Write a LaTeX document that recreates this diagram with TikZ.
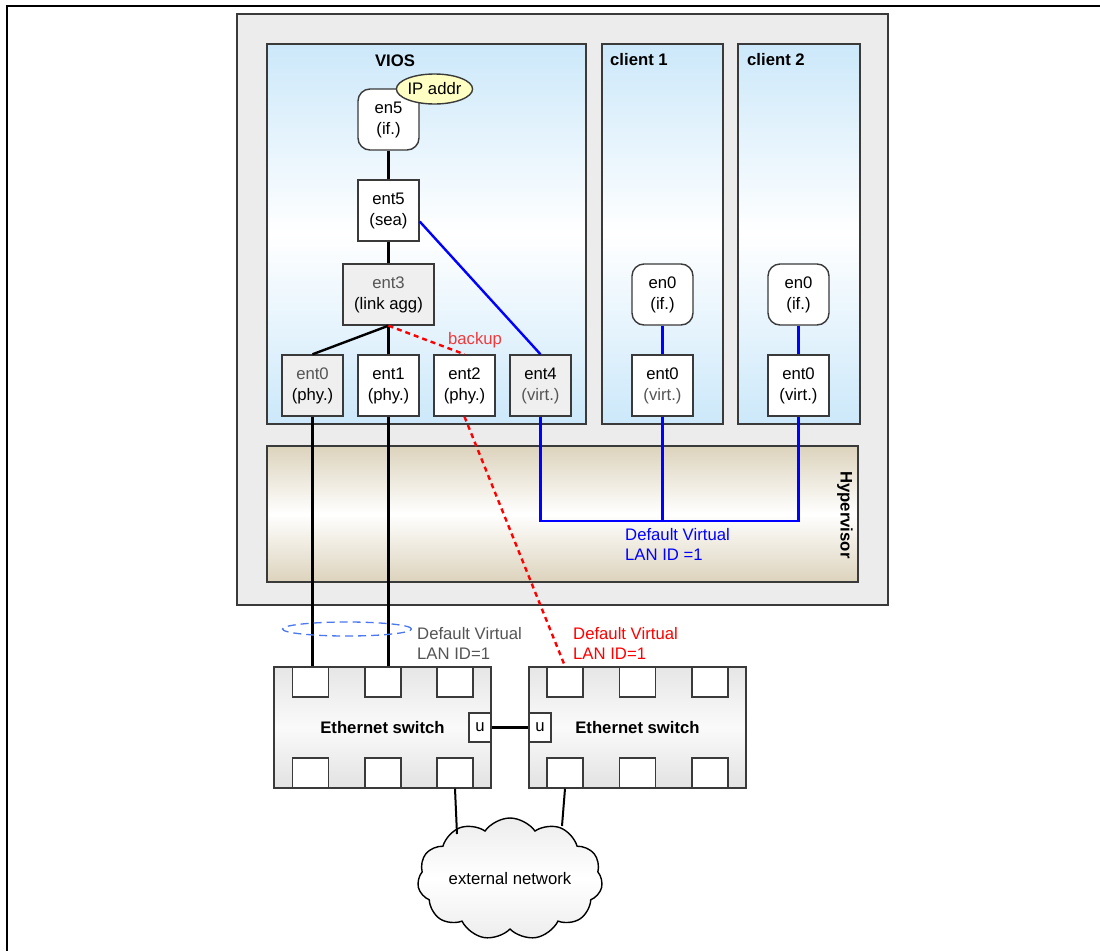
\documentclass[tikz,border=0pt]{standalone}
\usepackage{fontspec}
\setmainfont{Liberation Sans}
\usetikzlibrary{shapes.geometric,shapes.symbols}
\definecolor{sysfill}{HTML}{ECECEC}
\definecolor{border}{HTML}{3A3A3A}
\definecolor{lblue}{HTML}{CCE8FA}
\definecolor{beige}{HTML}{DCD3BC}
\definecolor{ipyel}{HTML}{FFFFC4}
\definecolor{txtgray}{HTML}{555555}
\definecolor{ellblue}{HTML}{4A78F0}
\definecolor{bkred}{HTML}{F03A3A}
\definecolor{lgray}{HTML}{EFEFEF}
\definecolor{swtop}{HTML}{E6E6E6}
\definecolor{swmid}{HTML}{FAFAFA}
\definecolor{swbot}{HTML}{E2E2E2}
\definecolor{cloudg}{HTML}{EDEDED}
\newcommand\fs{\fontsize{16.7}{21}\selectfont}
\newcommand\fl{\fontsize{16.7}{20}\selectfont}
\tikzset{
  devbox/.style={draw=border, line width=1.4pt, fill=white, minimum width=61pt, minimum height=61pt, inner sep=0pt, align=center, font=\fs},
  ifbox/.style={devbox, rounded corners=12pt},
  port/.style={draw=border, line width=1.4pt, fill=white, minimum width=36pt, minimum height=30pt, inner sep=0pt},
  uport/.style={draw=border, line width=1.4pt, fill=white, minimum width=22pt, minimum height=29pt, inner sep=0pt, font=\fs},
  switchbox/.style={draw=border, line width=1.4pt, top color=swtop, bottom color=swbot, middle color=swmid, minimum width=217pt, minimum height=121pt, inner sep=0pt, font=\fs\bfseries},
  blk/.style={line width=2.4pt, black},
  blu/.style={line width=2.4pt, blue},
  reddash/.style={line width=2.4pt, red, dash pattern=on 5pt off 4pt},
  lbl/.style={inner sep=0pt, align=left, anchor=west, font=\fl},
}
\begin{document}
\begin{tikzpicture}[x=1pt,y=-1pt]
\useasboundingbox (0,0) rectangle (1100,951);
\fill[white] (0,0) rectangle (1100,951);
% frame
\draw[line width=2pt] (1100,6) -- (7,6) -- (7,951);
% system box
\node[draw=border, line width=1.8pt, fill=sysfill, minimum width=651pt, minimum height=591pt, inner sep=0pt] (sys) at (562.5,309.5) {};
% partitions
\node[draw=border, line width=1.4pt, top color=lblue, bottom color=lblue, middle color=white, minimum width=319pt, minimum height=380pt, inner sep=0pt] (vios) at (426.5,234) {};
\node[draw=border, line width=1.4pt, top color=lblue, bottom color=lblue, middle color=white, minimum width=121pt, minimum height=380pt, inner sep=0pt] (cl1) at (662.5,234) {};
\node[draw=border, line width=1.4pt, top color=lblue, bottom color=lblue, middle color=white, minimum width=122pt, minimum height=380pt, inner sep=0pt] (cl2) at (799,234) {};
\node[draw=border, line width=1.4pt, top color=beige, bottom color=beige, middle color=white, minimum width=591pt, minimum height=136pt, inner sep=0pt] (hyp) at (562.5,514) {};
\node[rotate=-90, font=\fs\bfseries, inner sep=0pt] (hyplbl) at (845,515) {Hypervisor};
% titles
\node[font=\fs\bfseries, inner sep=0pt] (viost) at (395,61) {VIOS};
\node[font=\fs\bfseries, inner sep=0pt, anchor=west] (cl1t) at (610,60) {client 1};
\node[font=\fs\bfseries, inner sep=0pt, anchor=west] (cl2t) at (747,60) {client 2};
% VIOS devices
\node[ifbox] (en5) at (388.5,119.5) {en5\\(if.)};
\node[draw=border, line width=1.4pt, fill=ipyel, ellipse, minimum width=75pt, minimum height=30pt, inner sep=0pt, font=\fs] (ip) at (434.5,89) {IP addr};
\node[devbox] (ent5) at (388.5,210.5) {ent5\\(sea)};
\node[devbox, fill=lgray, minimum width=91pt] (ent3) at (388.5,294.5) {\textcolor{txtgray}{ent3}\\(link agg)};
\node[devbox, fill=lgray] (ent0) at (312.5,385.5) {\textcolor{txtgray}{ent0}\\(phy.)};
\node[devbox] (ent1) at (388.5,385.5) {ent1\\(phy.)};
\node[devbox] (ent2) at (464.5,385.5) {ent2\\(phy.)};
\node[devbox, fill=lgray] (ent4) at (540.5,385.5) {ent4\\\textcolor{txtgray}{(virt.)}};
% client devices
\node[ifbox] (c1en0) at (662.5,294.5) {en0\\(if.)};
\node[devbox] (c1ent0) at (662.5,385.5) {ent0\\\textcolor{txtgray}{(virt.)}};
\node[ifbox] (c2en0) at (798.5,294.5) {en0\\(if.)};
\node[devbox] (c2ent0) at (798.5,385.5) {ent0\\(virt.)};
% VIOS internal connectors
\draw[blk] (en5.south) -- (ent5.north);
\draw[blk] (ent5.south) -- (ent3.north);
\draw[blk] (ent3.south) -- (ent0.north);
\draw[blk] (ent3.south) -- (ent1.north);
\draw[reddash] (ent3.south) -- (ent2.north);
\node[text=bkred, font=\fs, inner sep=0pt] (backup) at (475,340) {backup};
\draw[blu] ([yshift=-11pt]ent5.east) -- (ent4.north);
\draw[blu] (c1en0.south) -- (c1ent0.north);
\draw[blu] (c2en0.south) -- (c2ent0.north);
% virtual LAN
\coordinate (bus) at (540,521);
\draw[blu] (ent4.south) -- (ent4.south |- bus) -- (c2ent0.south |- bus) -- (c2ent0.south);
\draw[blu] (c1ent0.south) -- (c1ent0.south |- bus);
\node[lbl, text=blue] (vlanlbl) at (625,544.5) {Default Virtual\\LAN ID =1};
% switches
\node[switchbox] (sw1) at (382.5,727.5) {Ethernet switch};
\node[switchbox] (sw2) at (637.5,727.5) {Ethernet switch};
\node[port] (s1t1) at (310.5,682) {};
\node[port] (s1t2) at (383,682) {};
\node[port] (s1t3) at (455,682) {};
\node[port] (s1b1) at (310.5,773) {};
\node[port] (s1b2) at (383,773) {};
\node[port] (s1b3) at (455,773) {};
\node[uport] (s1u) at (480,727.5) {u};
\node[port] (s2t1) at (565,682) {};
\node[port] (s2t2) at (637.5,682) {};
\node[port] (s2t3) at (710,682) {};
\node[port] (s2b1) at (565,773) {};
\node[port] (s2b2) at (637.5,773) {};
\node[port] (s2b3) at (710,773) {};
\node[uport] (s2u) at (540,727.5) {u};
\draw[line width=2.4pt] (s1u.east) -- (s2u.west);
% physical links
\draw[blk] (ent0.south) -- (ent0.south |- s1t1.north);
\draw[blk] (ent1.south) -- (ent1.south |- s1t2.north);
\draw[reddash] (ent2.south) -- (s2t1.north);
\node[draw=ellblue, line width=1.3pt, dash pattern=on 8pt off 5pt, ellipse, minimum width=129pt, minimum height=14pt, inner sep=0pt] (lagell) at (347,629) {};
\node[lbl, text=txtgray] (lag1) at (417,643) {Default Virtual\\LAN ID=1};
\node[lbl, text=red] (lag2) at (573,643) {Default Virtual\\LAN ID=1};
% cloud
\node[cloud, cloud puffs=11, cloud puff arc=110, cloud ignores aspect, draw=black, line width=1.4pt, top color=cloudg, bottom color=cloudg, middle color=white, minimum width=185pt, minimum height=122pt, inner sep=0pt, font=\fs] (cloud) at (510,879) {external network};
\coordinate (cl1) at (457,834);
\coordinate (cl2) at (562,826);
\draw[line width=2pt] (s1b3.south) -- (cl1);
\draw[line width=2pt] (s2b1.south) -- (cl2);
\end{tikzpicture}
\end{document}
